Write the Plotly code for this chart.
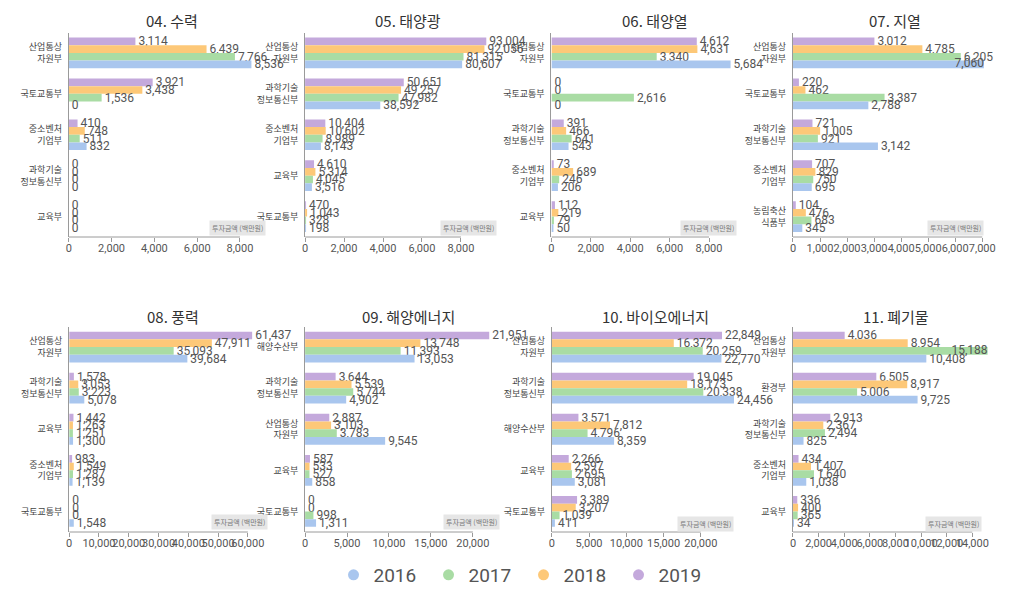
import plotly.graph_objects as go

W, H = 1010, 599

years = ["2016", "2017", "2018", "2019"]
colors = {"2016": "#a9c6ee", "2017": "#a9dca4", "2018": "#fdc878", "2019": "#c4a9dc"}

titles = ["04. 수력", "05. 태양광", "06. 태양열", "07. 지열",
          "08. 풍력", "09. 해양에너지", "10. 바이오에너지", "11. 폐기물"]

cats_04 = ["산업통상<br>자원부", "국토교통부", "중소벤처<br>기업부", "과학기술<br>정보통신부", "교육부"]
v04_2019 = [3114, 3921, 410, 0, 0]
v04_2018 = [6439, 3438, 748, 0, 0]
v04_2017 = [7766, 1536, 511, 0, 0]
v04_2016 = [8536, 0, 832, 0, 0]

cats_05 = ["산업통상<br>자원부", "과학기술<br>정보통신부", "중소벤처<br>기업부", "교육부", "국토교통부"]
v05_2019 = [93004, 50651, 10404, 4610, 470]
v05_2018 = [92056, 49257, 10602, 5314, 1043]
v05_2017 = [81315, 47982, 8989, 4045, 328]
v05_2016 = [80607, 38592, 8143, 3516, 198]

cats_06 = ["산업통상<br>자원부", "국토교통부", "과학기술<br>정보통신부", "중소벤처<br>기업부", "교육부"]
v06_2019 = [4612, 0, 391, 73, 112]
v06_2018 = [4631, 0, 466, 689, 219]
v06_2017 = [3340, 2616, 641, 246, 79]
v06_2016 = [5684, 0, 543, 206, 50]

cats_07 = ["산업통상<br>자원부", "국토교통부", "과학기술<br>정보통신부", "중소벤처<br>기업부", "농림축산<br>식품부"]
v07_2019 = [3012, 220, 721, 707, 104]
v07_2018 = [4785, 462, 1005, 829, 476]
v07_2017 = [6205, 3387, 921, 750, 683]
v07_2016 = [7060, 2788, 3142, 695, 345]

cats_08 = ["산업통상<br>자원부", "과학기술<br>정보통신부", "교육부", "중소벤처<br>기업부", "국토교통부"]
v08_2019 = [61437, 1578, 1442, 983, 0]
v08_2018 = [47911, 3053, 1263, 1549, 0]
v08_2017 = [35093, 3223, 1251, 1287, 0]
v08_2016 = [39684, 5078, 1300, 1139, 1548]

cats_09 = ["해양수산부", "과학기술<br>정보통신부", "산업통상<br>자원부", "교육부", "국토교통부"]
v09_2019 = [21951, 3644, 2887, 587, 0]
v09_2018 = [13748, 5539, 3103, 533, 0]
v09_2017 = [11393, 5744, 3783, 527, 998]
v09_2016 = [13053, 4902, 9545, 858, 1311]

cats_10 = ["산업통상<br>자원부", "과학기술<br>정보통신부", "해양수산부", "교육부", "국토교통부"]
v10_2019 = [22849, 19045, 3571, 2266, 3389]
v10_2018 = [16372, 18173, 7812, 2597, 3207]
v10_2017 = [20259, 20338, 4796, 2695, 1039]
v10_2016 = [22770, 24456, 8359, 3081, 411]

cats_11 = ["산업통상<br>자원부", "환경부", "과학기술<br>정보통신부", "중소벤처<br>기업부", "교육부"]
v11_2019 = [4036, 6505, 2913, 434, 336]
v11_2018 = [8954, 8917, 2367, 1407, 400]
v11_2017 = [15188, 5006, 2494, 1640, 365]
v11_2016 = [10408, 9725, 825, 1038, 34]

ticks_8000 = ["0", "2,000", "4,000", "6,000", "8,000"]
ticks_7000 = ["0", "1,000", "2,000", "3,000", "4,000", "5,000", "6,000", "7,000"]
ticks_60000 = ["0", "10,000", "20,000", "30,000", "40,000", "50,000", "60,000"]
ticks_20000 = ["0", "5,000", "10,000", "15,000", "20,000"]
ticks_14000 = ["0", "2,000", "4,000", "6,000", "8,000", "10,000", "12,000", "14,000"]

panels = [
    (cats_04, {"2019": v04_2019, "2018": v04_2018, "2017": v04_2017, "2016": v04_2016}, ticks_8000),
    (cats_05, {"2019": v05_2019, "2018": v05_2018, "2017": v05_2017, "2016": v05_2016}, ticks_8000),
    (cats_06, {"2019": v06_2019, "2018": v06_2018, "2017": v06_2017, "2016": v06_2016}, ticks_8000),
    (cats_07, {"2019": v07_2019, "2018": v07_2018, "2017": v07_2017, "2016": v07_2016}, ticks_7000),
    (cats_08, {"2019": v08_2019, "2018": v08_2018, "2017": v08_2017, "2016": v08_2016}, ticks_60000),
    (cats_09, {"2019": v09_2019, "2018": v09_2018, "2017": v09_2017, "2016": v09_2016}, ticks_20000),
    (cats_10, {"2019": v10_2019, "2018": v10_2018, "2017": v10_2017, "2016": v10_2016}, ticks_20000),
    (cats_11, {"2019": v11_2019, "2018": v11_2018, "2017": v11_2017, "2016": v11_2016}, ticks_14000),
]

# Axis scale as drawn in the source graphic (real units per printed tick unit)
label_scale = [1, 10, 0.625, 1, 1, 1, 1, 1]

# layout geometry in pixels: (x0, x_at_last_tick, x_right, y_top, y_bottom, title_x, title_y, pill_x, pill_y)
geom = [
    (58.3, 231.0, 250, 24.5, 229, 162, 12, 257, 220),
    (296.7, 454.0, 495, 24.5, 229, 401, 12, 490, 220),
    (545.3, 704.3, 745, 24.5, 229, 650, 12, 733, 220),
    (789.0, 980.0, 1000, 24.5, 229, 892, 12, 982, 220),
    (58.7, 239.0, 250, 318.5, 524, 163, 308, 259, 514),
    (296.7, 466.0, 495, 318.5, 524, 401, 308, 493, 514),
    (545.7, 696.0, 745, 318.5, 524, 650, 308, 730, 516),
    (789.0, 970.0, 1000, 318.5, 524, 893, 308, 980, 516),
]

fig = go.Figure()
layout = {}
annotations = []
shapes = []
label_font = dict(size=12, color="#555555", family="Roboto")

for i, ((cats, vals, tick_labels), sc, g) in enumerate(zip(panels, label_scale, geom)):
    n = i + 1
    xa = "x" if n == 1 else f"x{n}"
    ya = "y" if n == 1 else f"y{n}"
    x0, xt, xr, yt, yb, tx, ty, px, py = g
    tick_nums = [float(t.replace(",", "")) for t in tick_labels]
    tickvals = [t * sc for t in tick_nums]
    last = tickvals[-1]
    rng_max = (xr - x0) / (xt - x0) * last
    px_per_unit = (xt - x0) / last
    for yr in ["2019", "2018", "2017", "2016"]:
        v = vals[yr]
        # labels whose text would run off the page are set to end at the bar's end
        overflow = [x0 + a * px_per_unit + 30 > W - 2 for a in v]
        fig.add_trace(go.Bar(
            x=v, y=cats, orientation="h", xaxis=xa, yaxis=ya,
            offsetgroup=yr, alignmentgroup=f"p{n}",
            marker=dict(color=colors[yr], line=dict(width=0)),
            text=["" if o else f"{a:,}" for a, o in zip(v, overflow)], textposition="outside",
            textfont=label_font, outsidetextfont=label_font,
            constraintext="none", cliponaxis=False, showlegend=False,
            hoverinfo="skip",
        ))
        if any(overflow):
            fig.add_trace(go.Scatter(
                x=v, y=cats, orientation="h", xaxis=xa, yaxis=ya,
                offsetgroup=yr, alignmentgroup=f"p{n}",
                mode="text", text=[f"{a:,}" if o else "" for a, o in zip(v, overflow)],
                textposition="middle left", textfont=label_font,
                cliponaxis=False, showlegend=False, hoverinfo="skip",
            ))
    key_x = "xaxis" if n == 1 else f"xaxis{n}"
    key_y = "yaxis" if n == 1 else f"yaxis{n}"
    layout[key_x] = dict(
        domain=[x0 / W, xr / W], anchor=ya, range=[0, rng_max],
        tickvals=tickvals, ticktext=tick_labels, ticks="outside", ticklen=4,
        tickcolor="#9a9a9a", showgrid=False, zeroline=False, showline=False,
        tickangle=0, ticklabelstandoff=-3,
        tickfont=dict(size=11, color="#555555", family="Roboto"), fixedrange=True,
    )
    layout[key_y] = dict(
        domain=[1 - yb / H, 1 - yt / H], anchor=xa, autorange="reversed",
        showline=True, linecolor="#9a9a9a", linewidth=1, ticks="", showgrid=False,
        ticklabelstandoff=4,
        tickfont=dict(size=9, color="#444444", family="Noto Sans CJK KR"), fixedrange=True,
    )
    shapes.append(dict(type="line", xref=xa, yref=f"{ya} domain", x0=0, x1=last, y0=0, y1=0,
                       line=dict(color="#9a9a9a", width=1)))
    annotations.append(dict(text=titles[i], xref="paper", yref="paper", x=tx / W, y=1 - ty / H,
                            xanchor="center", yanchor="middle", showarrow=False,
                            font=dict(size=15, color="#333333", family="Noto Sans CJK KR")))
    annotations.append(dict(text="투자금액 (백만원)", xref="paper", yref="paper", x=px / W, y=1 - py / H,
                            xanchor="right", yanchor="middle", showarrow=False,
                            bgcolor="#e6e6e6", borderpad=2,
                            font=dict(size=7, color="#777777", family="Noto Sans CJK KR")))

for yr in years:
    fig.add_trace(go.Scatter(x=[None], y=[None], mode="markers", name=yr,
                             marker=dict(color=colors[yr], size=11, symbol="circle"),
                             showlegend=True, hoverinfo="skip"))

fig.update_layout(
    width=W, height=H, margin=dict(l=0, r=0, t=0, b=0),
    paper_bgcolor="white", plot_bgcolor="white",
    barmode="group", bargap=0.25, bargroupgap=0,
    scattermode="group", scattergap=0.25,
    font=dict(family="Roboto, Noto Sans CJK KR", color="#555555"),
    legend=dict(orientation="h", x=0.512, xanchor="center", y=1 - 567 / H, yanchor="middle",
                font=dict(size=19, color="#555555", family="Roboto"),
                itemwidth=30, entrywidth=50, entrywidthmode="pixels"),
    annotations=annotations, shapes=shapes,
    **layout,
)

fig.write_html("out.html")
